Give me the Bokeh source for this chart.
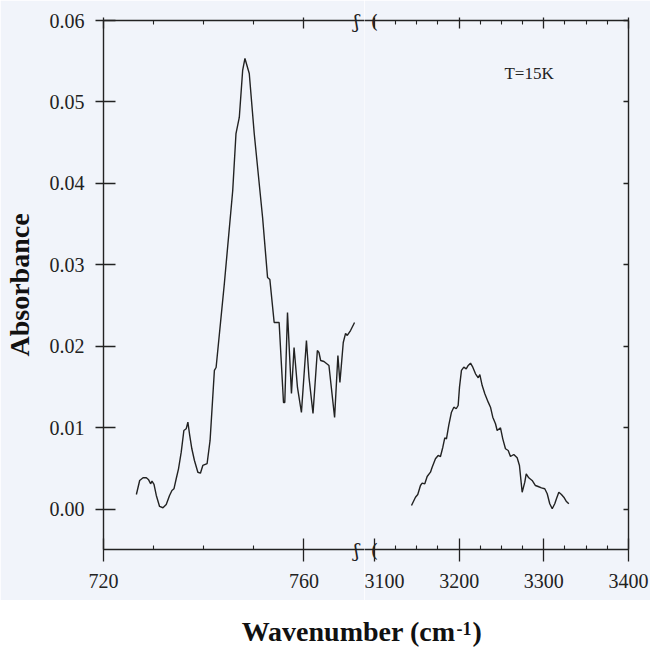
import numpy as np
from bokeh.plotting import figure
from bokeh.layouts import column, row
from bokeh.models import (Range1d, FixedTicker, PrintfTickFormatter, LinearAxis, Label,
                          CustomLabelingPolicy)
from bokeh.core.properties import value as value_font
from bokeh.embed import file_html
from bokeh.resources import INLINE

# ---------------- data ----------------
low_wavenumber = [726.56, 727.22, 727.89, 728.55, 729.01, 729.40, 729.68, 730.08, 730.54, 731.19,
                  731.87, 732.52, 733.18, 733.66, 734.06, 734.51, 734.97, 735.51, 736.04, 736.50,
                  736.84, 737.16, 737.63, 738.15, 738.83, 739.34, 739.82, 740.68, 741.27, 742.13,
                  742.47, 744.12, 745.79, 746.44, 747.10, 747.77, 748.23, 749.09, 750.08, 751.75,
                  752.74, 753.20, 754.06, 755.05, 755.92, 756.18, 756.72, 757.51, 758.03, 758.71,
                  759.50, 760.50, 761.01, 761.81, 762.68, 763.00, 763.34, 764.00, 764.99, 766.12,
                  766.78, 767.18, 767.85, 768.31, 768.65, 769.30, 770.10]
low_absorbance = [0.00184, 0.00356, 0.00389, 0.00389, 0.00364, 0.00315, 0.00347, 0.00307, 0.00172, 0.00037,
                  0.00021, 0.00061, 0.00172, 0.00233, 0.00254, 0.00377, 0.00499, 0.00703, 0.00969, 0.00990,
                  0.01071, 0.00929, 0.00745, 0.00601, 0.00457, 0.00445, 0.00540, 0.00564, 0.00847, 0.01706,
                  0.01742, 0.02773, 0.03914, 0.04613, 0.04810, 0.05387, 0.05534, 0.05350, 0.04613, 0.03583,
                  0.02847, 0.02822, 0.02294, 0.02294, 0.01313, 0.01313, 0.02417, 0.01423, 0.01988, 0.01497,
                  0.01190, 0.02074, 0.01620, 0.01178, 0.01951, 0.01926, 0.01828, 0.01816, 0.01767, 0.01129,
                  0.01890, 0.01558, 0.02049, 0.02160, 0.02135, 0.02196, 0.02294]

high_wavenumber = [3143.7, 3148.4, 3151.1, 3154.3, 3156.3, 3159.4, 3162.2, 3166.1, 3168.1, 3172.0,
                   3175.2, 3177.9, 3180.7, 3183.0, 3185.0, 3187.7, 3190.9, 3193.7, 3196.5, 3198.8,
                   3200.4, 3202.7, 3205.5, 3208.3, 3210.7, 3213.4, 3216.1, 3219.3, 3222.5, 3224.4,
                   3227.2, 3230.3, 3234.3, 3237.0, 3239.7, 3242.9, 3244.9, 3248.8, 3251.5, 3254.7,
                   3257.9, 3260.6, 3264.5, 3268.5, 3271.2, 3274.4, 3277.5, 3279.2, 3282.2, 3286.2,
                   3290.1, 3293.3, 3297.2, 3301.1, 3304.0, 3307.0, 3309.9, 3312.9, 3314.9, 3317.7,
                   3320.8, 3323.6, 3326.4, 3329.5]
high_absorbance = [0.00049, 0.00151, 0.00184, 0.00294, 0.00323, 0.00315, 0.00405, 0.00458, 0.00519, 0.00622,
                   0.00663, 0.00650, 0.00764, 0.00880, 0.00867, 0.01031, 0.01194, 0.01255, 0.01236, 0.01276,
                   0.01501, 0.01706, 0.01746, 0.01726, 0.01767, 0.01795, 0.01746, 0.01665, 0.01616, 0.01656,
                   0.01521, 0.01420, 0.01317, 0.01255, 0.01133, 0.01052, 0.00969, 0.01002, 0.00867, 0.00745,
                   0.00724, 0.00650, 0.00675, 0.00634, 0.00540, 0.00212, 0.00335, 0.00438, 0.00389, 0.00356,
                   0.00294, 0.00282, 0.00266, 0.00254, 0.00193, 0.00070, 0.00009, 0.00070, 0.00131, 0.00212,
                   0.00184, 0.00151, 0.00102, 0.00070]

y_ticks = [0.00, 0.01, 0.02, 0.03, 0.04, 0.05, 0.06]
low_major_ticks = [720, 760]
low_minor_ticks = [730, 740, 750]
high_major_ticks = [3100, 3200, 3300, 3400]
high_minor_ticks = [3125, 3150, 3175, 3225, 3250, 3275, 3325, 3350, 3375]
low_break = [770.5]      # axis-break marker positions
high_break = [3100]

# ---------------- style ----------------
BG = "#f1f4fa"
INK = "#222222"
FONT = "Liberation Serif"
TICK_FS = "20px"

Y_RANGE = (-0.00491, 0.06)

HIDE_LABELS = CustomLabelingPolicy(code="""
for (const i of Array.from(indices)) { indices.unset(i) }
return indices
""")


def base_fig(width, x_start, x_end, mb_left, mb_right):
    p = figure(width=width, height=600,
               x_range=Range1d(x_start, x_end), y_range=Range1d(*Y_RANGE),
               x_axis_location=None, y_axis_location=None,
               min_border_left=mb_left, min_border_right=mb_right,
               min_border_top=20, min_border_bottom=51,
               background_fill_color=BG, border_fill_color=BG,
               outline_line_color=None, output_backend="svg", toolbar_location=None)
    p.grid.visible = False
    return p


def style_axis(ax, tin, tout, min_in, min_out, labels, standoff=10):
    ax.axis_line_color = INK
    ax.axis_line_width = 1.4
    ax.major_tick_line_color = INK
    ax.major_tick_line_width = 1.3
    ax.minor_tick_line_color = INK
    ax.minor_tick_line_width = 1.1
    ax.major_tick_in = tin
    ax.major_tick_out = tout
    ax.minor_tick_in = min_in
    ax.minor_tick_out = min_out
    if labels:
        ax.major_label_text_font = FONT
        ax.major_label_text_font_size = TICK_FS
        ax.major_label_text_color = INK
        ax.major_label_standoff = standoff
    else:
        ax.major_label_policy = HIDE_LABELS
        ax.major_label_text_font_size = "1px"
        ax.major_label_standoff = 0


def break_marks(p, xs, glyph):
    p.text(x=xs * 2, y=[Y_RANGE[0]] * len(xs) + [Y_RANGE[1]] * len(xs), text=[glyph] * (2 * len(xs)),
           text_align="center", text_baseline="middle", text_font=value_font("DejaVu Serif"),
           text_font_size="19px", text_color=INK, level="overlay")


# ---------------- left panel (720-770) ----------------
left = base_fig(364, 720, 720 + 262 / 5.03, 102, 0)
ax = LinearAxis(ticker=FixedTicker(ticks=low_major_ticks, minor_ticks=low_minor_ticks))
style_axis(ax, 11, 12, 4, 0, True, 12)
left.add_layout(ax, "below")
ax = LinearAxis(ticker=FixedTicker(ticks=low_major_ticks, minor_ticks=low_minor_ticks))
style_axis(ax, 8, 3, 4, 0, False)
left.add_layout(ax, "above")
ay = LinearAxis(ticker=FixedTicker(ticks=y_ticks, minor_ticks=[]),
                formatter=PrintfTickFormatter(format="%.2f"))
style_axis(ay, 12, 8, 0, 0, True, 11)
ay.axis_label = "Absorbance"
ay.axis_label_text_font = FONT
ay.axis_label_text_font_size = "28px"
ay.axis_label_text_font_style = "bold"
ay.axis_label_text_color = "#111111"
ay.axis_label_standoff = 12
left.add_layout(ay, "left")

left.line(low_wavenumber, low_absorbance, line_color=INK, line_width=1.4)
break_marks(left, low_break, "ʃ")

# ---------------- right panel (3100-3400) ----------------
right = base_fig(286, 3100 - 10 / 0.8467, 3400, 0, 22)
ax = LinearAxis(ticker=FixedTicker(ticks=high_major_ticks, minor_ticks=high_minor_ticks))
style_axis(ax, 11, 12, 4, 0, True, 12)
right.add_layout(ax, "below")
ax = LinearAxis(ticker=FixedTicker(ticks=high_major_ticks, minor_ticks=high_minor_ticks))
style_axis(ax, 8, 3, 4, 0, False)
right.add_layout(ax, "above")
ay = LinearAxis(ticker=FixedTicker(ticks=y_ticks, minor_ticks=[]))
style_axis(ay, 5, 0, 0, 0, False)
right.add_layout(ay, "right")

right.line(high_wavenumber, high_absorbance, line_color=INK, line_width=1.4)
break_marks(right, high_break, "(")

right.add_layout(Label(x=3253.5, y=0.0535, text="T=15K", text_font=FONT, text_font_size="17px",
                       text_color=INK, text_baseline="alphabetic"))

# ---------------- x-axis title strip ----------------
lab = figure(width=650, height=51, x_range=Range1d(0, 650), y_range=Range1d(0, 51),
             x_axis_location=None, y_axis_location=None, min_border=0,
             background_fill_color="white", border_fill_color="white",
             outline_line_color=None, output_backend="svg", toolbar_location=None)
lab.grid.visible = False
lab.add_layout(Label(x=455, y=5, text="Wavenumber (cm", text_align="right", text_font=FONT,
                     text_font_size="28px", text_font_style="bold", text_color="#111111"))
lab.add_layout(Label(x=456, y=17, text="-1", text_align="left", text_font=FONT,
                     text_font_size="18px", text_font_style="bold", text_color="#111111"))
lab.add_layout(Label(x=472, y=5, text=")", text_align="left", text_font=FONT,
                     text_font_size="28px", text_font_style="bold", text_color="#111111"))

layout = column(row(left, right, spacing=0), lab, spacing=0)

open("out.html", "w").write(file_html(layout, INLINE))
